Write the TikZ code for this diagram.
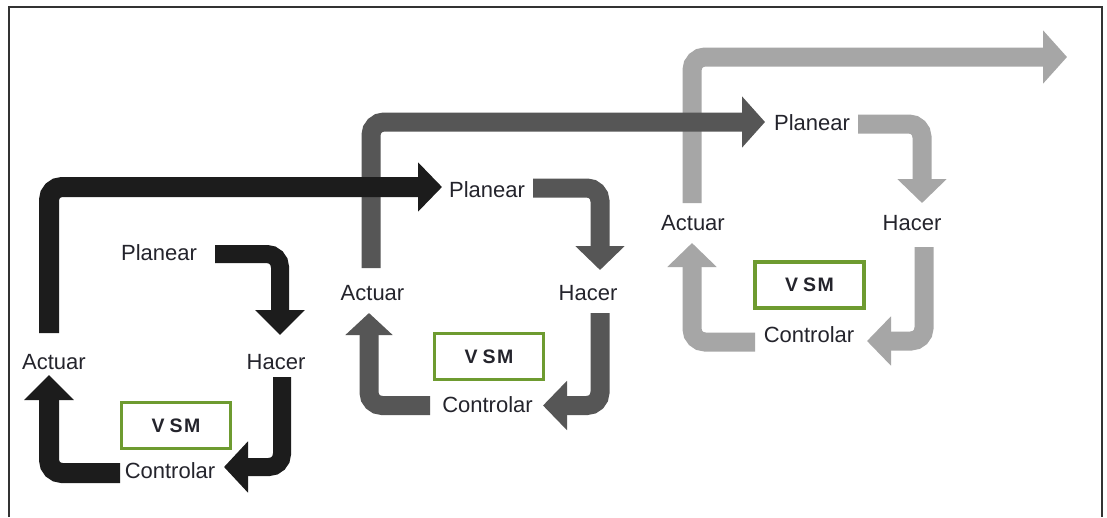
\documentclass[tikz,border=0pt]{standalone}
\usepackage{fontspec}
\setmainfont{Liberation Sans}
\usetikzlibrary{arrows.meta}
\definecolor{cone}{HTML}{1C1C1C}
\definecolor{ctwo}{HTML}{565656}
\definecolor{cthree}{HTML}{A6A6A6}
\definecolor{vsmgreen}{HTML}{6E9B30}
\definecolor{txt}{HTML}{24242C}
\tikzset{
  lbl/.style={inner sep=0pt, text height=15.8pt, text depth=0pt, font=\fontsize{22}{24}\selectfont, text=txt},
  vsmbox/.style={draw=vsmgreen, line width=3.2pt, minimum width=109pt, minimum height=46pt, inner sep=0pt, fill=white, font=\fontsize{19.5}{22}\selectfont\bfseries, text=txt},
  band/.style={line width=19pt, rounded corners=13pt},
  bandtip/.style={-{Triangle[length=24pt, width=48pt]}},
  frame/.style={draw=black!80, line width=2pt}
}
\begin{document}
\begin{tikzpicture}[x=1pt, y=-1pt]
\useasboundingbox (0,0) rectangle (1107,517);
\fill[white] (0,0) rectangle (1107,517);
\draw[frame] (9,517) -- (9,7) -- (1102,7) -- (1102,517);

% ---------- labels ----------
\node[lbl] (p1) at (159,253) {Planear};
\node[lbl] (h1) at (276,362) {Hacer};
\node[lbl] (c1) at (170,471) {Controlar};
\node[lbl] (a1) at (54,362) {Actuar};
\node[vsmbox] (v1) at (176,425.5) {V\kern5pt S\kern1.5pt M};

\node[lbl] (p2) at (487,190) {Planear};
\node[lbl] (h2) at (588,292.5) {Hacer};
\node[lbl] (c2) at (487.5,404.5) {Controlar};
\node[lbl] (a2) at (372.5,292.5) {Actuar};
\node[vsmbox] (v2) at (489,356.5) {V\kern5pt S\kern1.5pt M};

\node[lbl] (p3) at (812,122.5) {Planear};
\node[lbl] (h3) at (912,223) {Hacer};
\node[lbl] (c3) at (809,334.5) {Controlar};
\node[lbl] (a3) at (693,222.5) {Actuar};
\node[vsmbox] (v3) at (809.5,285) {V\kern5pt S\kern1.5pt M};

\coordinate (out) at (1067,57);

% ---------- cycle 3 (light grey) ----------
\begin{scope}[cthree]
\draw[band, bandtip] ([shift={(46,1.5)}]p3.center) -| ([shift={(10,-20)}]h3.center);
\draw[band, bandtip] ([shift={(12,24)}]h3.center) |- ([shift={(58,6.5)}]c3.center);
\draw[band, bandtip] ([shift={(-54,7.5)}]c3.center) -| ([shift={(-1,20.5)}]a3.center);
\draw[band, -{Triangle[length=24pt, width=52pt]}] ([shift={(-1,-19.5)}]a3.center) |- (out);
\end{scope}

% ---------- cycle 2 (dark grey) ----------
\begin{scope}[ctwo]
\draw[band, bandtip] ([shift={(46,-2)}]p2.center) -| ([shift={(12,-22.5)}]h2.center);
\draw[band, bandtip] ([shift={(12,20.5)}]h2.center) |- ([shift={(55.5,1)}]c2.center);
\draw[band, -{Triangle[length=22pt, width=46pt]}] ([shift={(-57.5,1)}]c2.center) -| ([shift={(-3.5,20.5)}]a2.center);
\draw[band, -{Triangle[length=23pt, width=50pt]}] ([shift={(-1.5,-24.5)}]a2.center) |- ([shift={(-47,-0.5)}]p3.center);
\end{scope}

% ---------- cycle 1 (black) ----------
\begin{scope}[cone]
\draw[band, line width=18pt, -{Triangle[length=25pt, width=48pt]}] ([shift={(56,1)}]p1.center) -| ([shift={(4,-27)}]h1.center);
\draw[band, line width=18pt, -{Triangle[length=24pt, width=50pt]}] ([shift={(6,15)}]h1.center) |- ([shift={(54,-4)}]c1.center);
\draw[band, line width=20pt, -{Triangle[length=25pt, width=48pt]}] ([shift={(-50,2)}]c1.center) -| ([shift={(-5,13)}]a1.center);
\draw[band, line width=20pt, -{Triangle[length=24pt, width=48pt]}] ([shift={(-5,-29)}]a1.center) |- ([shift={(-45,-3)}]p2.center);
\end{scope}
\end{tikzpicture}
\end{document}
